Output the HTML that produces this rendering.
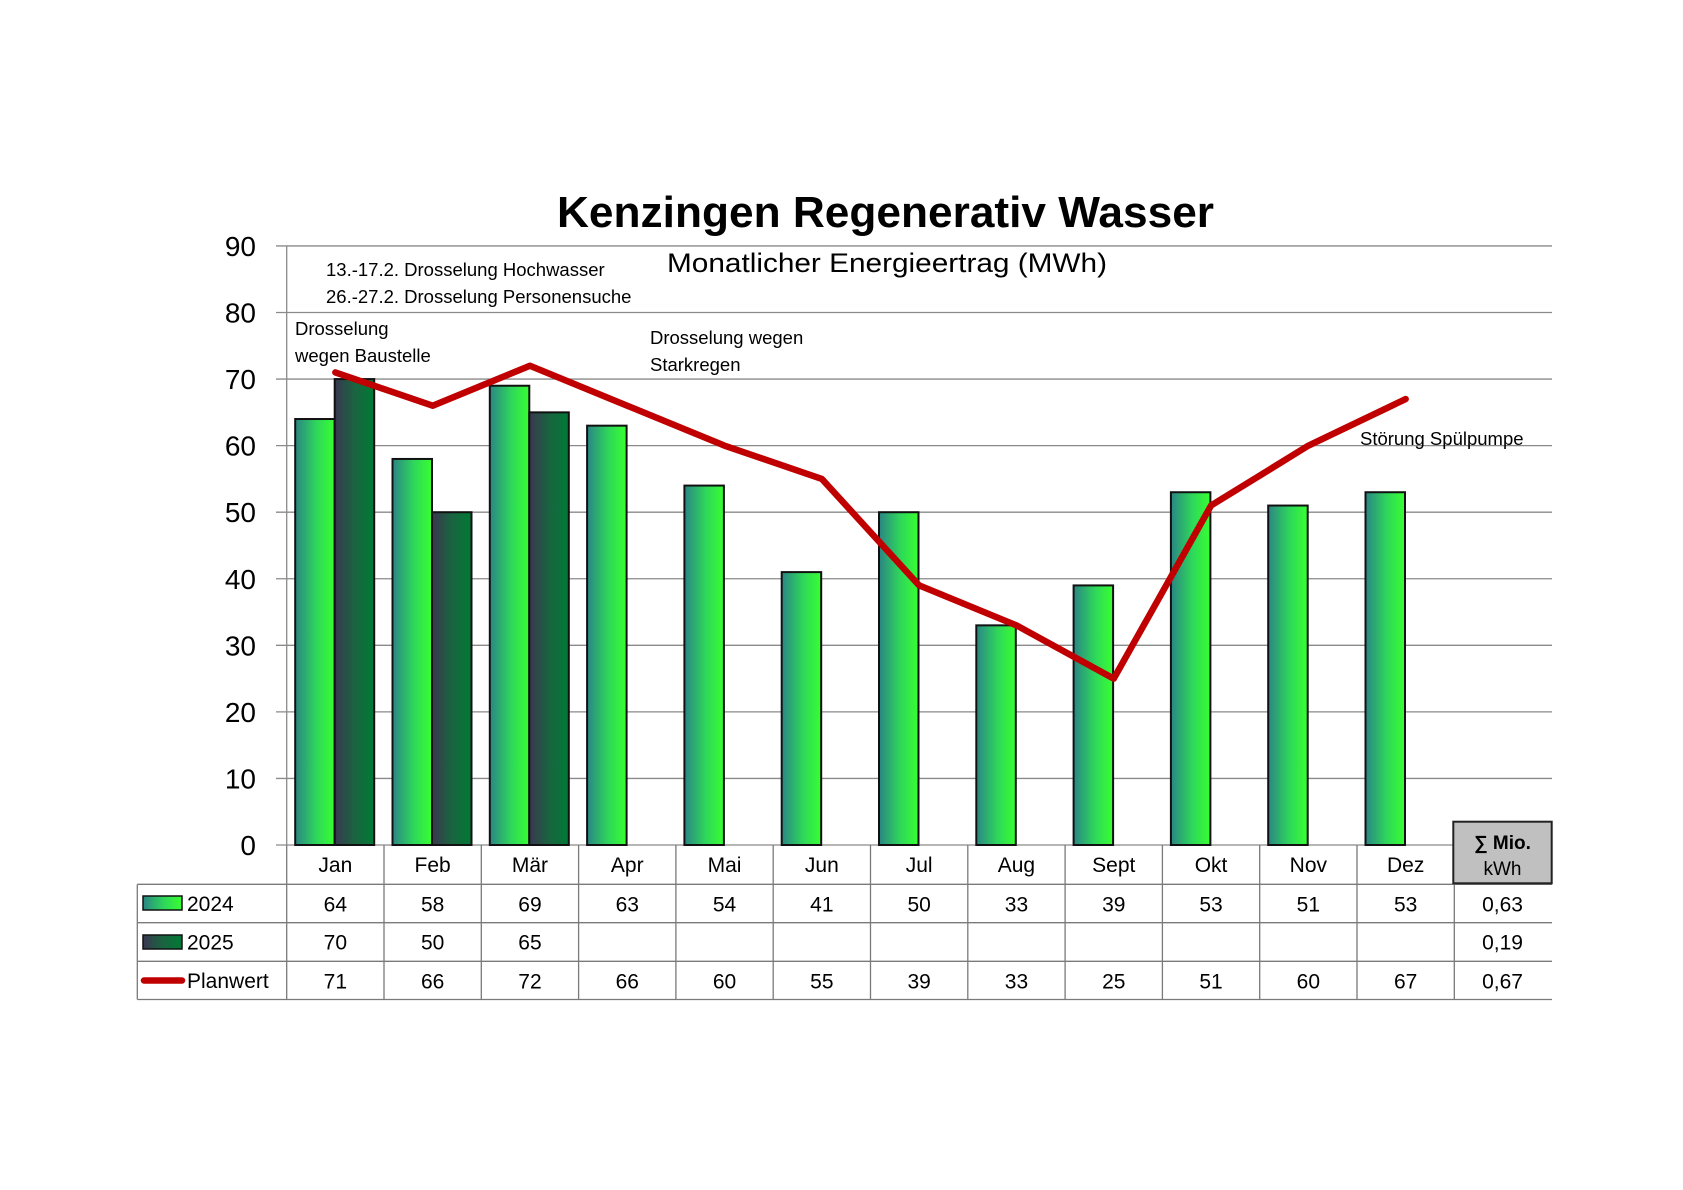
<!DOCTYPE html>
<html><head><meta charset="utf-8"><style>
html,body{margin:0;padding:0;background:#fff;}
svg{display:block;font-family:"Liberation Sans",sans-serif;}
</style></head><body>
<svg id="chart" width="1683" height="1190" viewBox="0 0 1683 1190" xmlns="http://www.w3.org/2000/svg">
<defs>
<linearGradient id="g24" x1="0" x2="1" y1="0" y2="0"><stop offset="0" stop-color="#2b8585"/><stop offset="0.55" stop-color="#2ed85a"/><stop offset="1" stop-color="#38ff30"/></linearGradient>
<linearGradient id="g25" x1="0" x2="1" y1="0" y2="0"><stop offset="0" stop-color="#3a3750"/><stop offset="0.5" stop-color="#1a6440"/><stop offset="1" stop-color="#007a35"/></linearGradient>
</defs>
<text x="557" y="227" font-size="44" font-weight="bold" textLength="657" lengthAdjust="spacingAndGlyphs">Kenzingen Regenerativ Wasser</text>
<g id="grid"></g>
<g id="bars"></g>
<g id="line"></g>
<text x="667" y="272" font-size="27" textLength="440" lengthAdjust="spacingAndGlyphs">Monatlicher Energieertrag (MWh)</text>
<g font-size="18.5">
<text x="326" y="276">13.-17.2. Drosselung Hochwasser</text>
<text x="326" y="303">26.-27.2. Drosselung Personensuche</text>
<text x="295" y="335">Drosselung</text>
<text x="295" y="362">wegen Baustelle</text>
<text x="650" y="344">Drosselung wegen</text>
<text x="650" y="371">Starkregen</text>
<text x="1360" y="445">Störung Spülpumpe</text>
</g>
<g id="table"></g>
</svg>
<script>
const months = ["Jan","Feb","Mär","Apr","Mai","Jun","Jul","Aug","Sept","Okt","Nov","Dez"];
const values2024 = [64,58,69,63,54,41,50,33,39,53,51,53];
const values2025 = [70,50,65,null,null,null,null,null,null,null,null,null];
const planwert = [71,66,72,66,60,55,39,33,25,51,60,67];
const yTicks = [0,10,20,30,40,50,60,70,80,90];
const totals = ["0,63","0,19","0,67"];

const NS = "http://www.w3.org/2000/svg";
const X0 = 286.7, COLW = 97.3, Y0 = 845, PXU = 6.656, XR = 1552;
function xCol(i){ return X0 + i*COLW; }
function yVal(v){ return Y0 - v*PXU; }
function mk(tag, attrs, parent, text){
  const e = document.createElementNS(NS, tag);
  for (const k in attrs) e.setAttribute(k, attrs[k]);
  if (text !== undefined) e.textContent = text;
  parent.appendChild(e); return e;
}
const grid = document.getElementById('grid');
yTicks.forEach(t=>{
  const y = yVal(t);
  const l = mk('line',{x1:276,x2:(t===0?1453:XR),y1:y,y2:y,stroke:'#8a8a8a','stroke-width':1.3},grid);
  
  
  const tx = mk('text',{x:256,y:y+10,'font-size':28,'text-anchor':'end'},grid,String(t));
  
  
});
const ax = mk('line',{x1:X0,x2:X0,y1:yVal(90),y2:Y0,stroke:'#8a8a8a','stroke-width':1.3},grid);



const bars = document.getElementById('bars');
const BW = 39.5, OFF = 8.5;
months.forEach((m,i)=>{
  const v = values2024[i];
  if (v!=null){
    const r = mk('rect',{x:xCol(i)+OFF,y:yVal(v),width:BW,height:v*PXU,fill:'url(#g24)',stroke:'#111','stroke-width':2},bars);
    
    
  }
  const w = values2025[i];
  if (w!=null){
    const r = mk('rect',{x:xCol(i)+OFF+BW,y:yVal(w),width:BW,height:w*PXU,fill:'url(#g25)',stroke:'#111','stroke-width':2},bars);
    
    
  }
});
const pts = planwert.map((v,i)=>(xCol(i)+COLW/2)+','+yVal(v)).join(' ');
const pl = mk('polyline',{points:pts,fill:'none',stroke:'#c00000','stroke-width':6.5,'stroke-linejoin':'round','stroke-linecap':'round'},document.getElementById('line'));



const tb = document.getElementById('table');
const rowY = [845, 884.3, 922.7, 961.3, 999.5];
const lc = '#7a7a7a';
// horizontal lines
[1,2,3,4].forEach(r=>{
  const hl = mk('line',{x1:137.3,x2:XR,y1:rowY[r],y2:rowY[r],stroke:lc,'stroke-width':1.3},tb);
  
  
});
// vertical lines
for (let i=0;i<=12;i++){
  const vl = mk('line',{x1:xCol(i),x2:xCol(i),y1:Y0,y2:999.5,stroke:lc,'stroke-width':1.3},tb);
  
  
}
const lv = mk('line',{x1:137.3,x2:137.3,y1:884.3,y2:999.5,stroke:lc,'stroke-width':1.3},tb);


// sum header box
const sb = mk('rect',{x:1453.3,y:821.7,width:98.4,height:61.6,fill:'#c0c0c0',stroke:'#222','stroke-width':2},tb);


const s1 = mk('text',{x:1502.5,y:849,'font-size':19,'font-weight':'bold','text-anchor':'middle'},tb,'∑ Mio.');


const s2 = mk('text',{x:1502.5,y:875,'font-size':19,'text-anchor':'middle'},tb,'kWh');


// month labels and values
months.forEach((m,i)=>{
  const cx = xCol(i)+COLW/2;
  const t = mk('text',{x:cx,y:872,'font-size':21,'text-anchor':'middle'},tb,m);
  
  
  [values2024,values2025,planwert].forEach((arr,r)=>{
    if (arr[i]==null) return;
    const c = mk('text',{x:cx,y:rowY[r+1]+27,'font-size':21,'text-anchor':'middle'},tb,String(arr[i]));
    
    
  });
});
totals.forEach((v,r)=>{
  const c = mk('text',{x:1502.5,y:rowY[r+1]+27,'font-size':21,'text-anchor':'middle'},tb,v);
  
  
});
// legend
const lg1 = mk('rect',{x:143,y:896,width:39,height:14,fill:'url(#g24)',stroke:'#111','stroke-width':1.5},tb);


const lg2 = mk('rect',{x:143,y:935,width:39,height:14,fill:'url(#g25)',stroke:'#111','stroke-width':1.5},tb);


const lg3 = mk('line',{x1:144,x2:182,y1:980.5,y2:980.5,stroke:'#c00000','stroke-width':6.5,'stroke-linecap':'round'},tb);


[['2024',911],['2025',949.5],['Planwert',988]].forEach(([t,y])=>{
  const e = mk('text',{x:187,y:y,'font-size':21},tb,t);
  
  
});
</script>
</body></html>
